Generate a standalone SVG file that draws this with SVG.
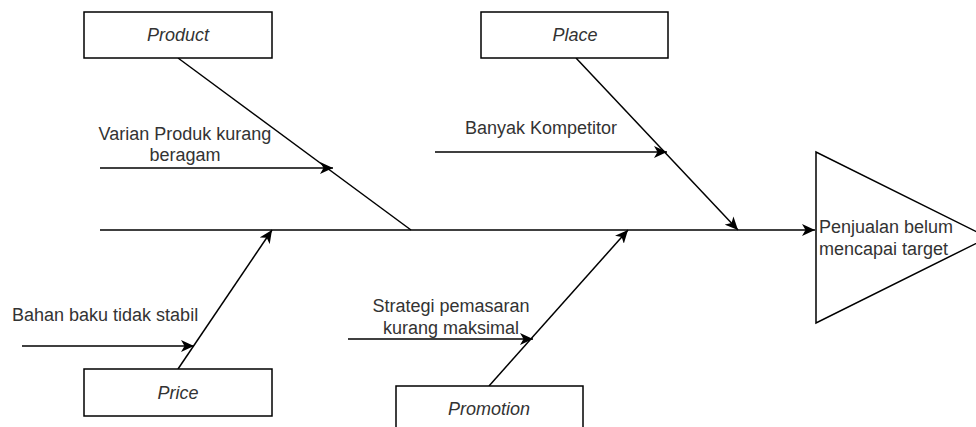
<svg xmlns="http://www.w3.org/2000/svg" width="976" height="427" viewBox="0 0 976 427">
<defs>
<marker id="arr" markerUnits="userSpaceOnUse" markerWidth="14" markerHeight="12" viewBox="0 0 14 12" refX="13" refY="6" orient="auto">
<path d="M0,0 L13,6 L0,12 L3.5,6 Z" fill="#000"/>
</marker>
<style>
.box{fill:#fff;stroke:#000;stroke-width:1.5}
.ln{fill:none;stroke:#000;stroke-width:1.5}
.lbl{font-family:"Liberation Sans",Arial,sans-serif;font-size:18px;fill:#333}
.it{font-style:italic;text-anchor:middle}
</style>
</defs>
<rect width="976" height="427" fill="#fff"/>
<g id="connectors">
<line class="ln" x1="100" y1="230" x2="815" y2="230" marker-end="url(#arr)"/>
<line class="ln" x1="178" y1="58" x2="411" y2="230"/>
<line class="ln" x1="576" y1="58" x2="738" y2="230" marker-end="url(#arr)"/>
<line class="ln" x1="178" y1="369" x2="272" y2="230" marker-end="url(#arr)"/>
<line class="ln" x1="489" y1="386" x2="628" y2="230" marker-end="url(#arr)"/>
<line class="ln" x1="100" y1="168" x2="333" y2="168" marker-end="url(#arr)"/>
<line class="ln" x1="435" y1="152" x2="667" y2="152" marker-end="url(#arr)"/>
<line class="ln" x1="22" y1="346" x2="194" y2="346" marker-end="url(#arr)"/>
<line class="ln" x1="348" y1="339" x2="533" y2="339" marker-end="url(#arr)"/>
</g>
<g id="product">
<rect class="box" x="84" y="12" width="188" height="46"/>
<text class="lbl it" x="178" y="41">Product</text>
</g>
<g id="place">
<rect class="box" x="481" y="12" width="187" height="46"/>
<text class="lbl it" x="575" y="41">Place</text>
</g>
<g id="price">
<rect class="box" x="84" y="369" width="188" height="47"/>
<text class="lbl it" x="178" y="399">Price</text>
</g>
<g id="promotion">
<rect class="box" x="396" y="386" width="187" height="46"/>
<text class="lbl it" x="489" y="415">Promotion</text>
</g>
<g id="effect">
<polygon class="box" points="816,152 816,323 988,237.5"/>
<text class="lbl" x="819" y="233">Penjualan belum</text>
<text class="lbl" x="819" y="255">mencapai target</text>
</g>
<g id="cause-varian">
<text class="lbl" text-anchor="middle" x="185" y="140">Varian Produk kurang</text>
<text class="lbl" text-anchor="middle" x="185" y="161">beragam</text>
</g>
<g id="cause-kompetitor">
<text class="lbl" x="465" y="134">Banyak Kompetitor</text>
</g>
<g id="cause-bahan">
<text class="lbl" x="12" y="321">Bahan baku tidak stabil</text>
</g>
<g id="cause-strategi">
<text class="lbl" text-anchor="middle" x="451" y="312">Strategi pemasaran</text>
<text class="lbl" text-anchor="middle" x="451" y="334">kurang maksimal</text>
</g>
</svg>
